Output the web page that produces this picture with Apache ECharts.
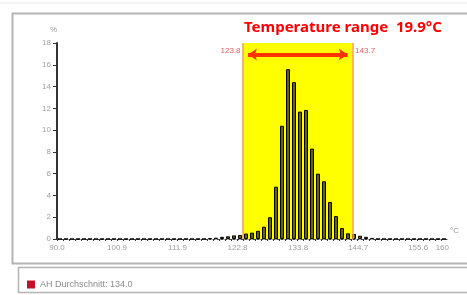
<!DOCTYPE html>
<html>
<head>
<meta charset="utf-8">
<script src="https://cdn.jsdelivr.net/npm/echarts@6/dist/echarts.min.js"></script>
<style>
  html, body { margin: 0; padding: 0; background: #fff; }
  #chart { width: 467px; height: 295px; }
</style>
</head>
<body>
<div id="chart"></div>
<script>
// histogram bins (°C), 65 bins of 1.09 °C starting at 90.0
var binStart = 90.0;
var binWidth = 1.09;
var counts = [
  0, 0, 0, 0, 0, 0, 0, 0, 0, 0,
  0, 0, 0, 0, 0, 0, 0, 0, 0, 0,
  0, 0, 0, 0, 0, 0.08, 0.12, 0.2, 0.25, 0.33,
  0.37, 0.5, 0.58, 0.75, 1.13, 2.0, 4.8, 10.4, 15.6, 14.4,
  11.7, 11.85, 8.3, 6.0, 5.3, 3.4, 2.1, 1.0, 0.52, 0.46,
  0.3, 0.2, 0.1, 0, 0, 0, 0, 0, 0, 0,
  0, 0, 0, 0, 0
];
var xTicks = [90.0, 100.9, 111.9, 122.8, 133.8, 144.7, 155.6, 160];
var xTickLabels = ['90.0', '100.9', '111.9', '122.8', '133.8', '144.7', '155.6', '160'];
var rangeLow = 123.8;
var rangeHigh = 143.7;
var rangeText = 'Temperature range  19.9°C';
var legendName = 'AH Durchschnitt: 134.0';

var xMax = binStart + binWidth * counts.length;
var barData = [];
var binEdges = [];
for (var i = 0; i < counts.length; i++) {
  barData.push([binStart + binWidth * (i + 0.5), counts[i]]);
  binEdges.push(binStart + binWidth * i);
}

var chart = echarts.init(document.getElementById('chart'));
chart.setOption({
  backgroundColor: '#fff',
  animation: false,
  title: {
    text: rangeText,
    left: 239, top: 15,
    textStyle: { color: '#ff0000', fontSize: 15, fontWeight: 'bold', fontFamily: 'Noto Sans' }
  },
  legend: {
    left: 22, top: 275,
    itemWidth: 8, itemHeight: 8, icon: 'rect',
    data: [{ name: legendName, itemStyle: { color: '#c0102a', borderWidth: 0 } }],
    textStyle: { color: '#8a8a8a', fontSize: 9, fontFamily: 'Liberation Sans' }
  },
  graphic: [
    { type: 'line', shape: { x1: 0, y1: 3, x2: 467, y2: 3 }, style: { stroke: '#e8e8e8', lineWidth: 1 } },
    { type: 'rect', shape: { x: 12.5, y: 13.5, width: 470, height: 250 }, style: { fill: 'none', stroke: '#b4b4b4', lineWidth: 2 } },
    { type: 'rect', shape: { x: 18.5, y: 267.5, width: 470, height: 25 }, style: { fill: 'none', stroke: '#b4b4b4', lineWidth: 1.5 } }
  ],
  grid: { left: 57, right: 20, top: 43, bottom: 56 },
  xAxis: {
    type: 'value',
    min: binStart, max: xMax,
    name: '°C', nameGap: 3,
    nameTextStyle: { color: '#999', fontSize: 8, verticalAlign: 'bottom', padding: [0, 0, 4, 0] },
    splitLine: { show: false },
    axisLine: { lineStyle: { color: '#444', width: 1.2, type: [2, 2] } },
    axisTick: { customValues: binEdges, length: 2, lineStyle: { color: '#333' } },
    axisLabel: {
      customValues: xTicks,
      color: '#a0a0a0', fontSize: 8, margin: 5, fontFamily: 'Liberation Sans',
      formatter: function (v) {
        var k = xTicks.indexOf(v);
        return k >= 0 ? xTickLabels[k] : '';
      }
    }
  },
  yAxis: {
    type: 'value',
    min: 0, max: 18, interval: 2,
    name: '%', nameGap: 9,
    nameTextStyle: { color: '#999', fontSize: 8, align: 'right' },
    splitLine: { show: false },
    axisLine: { show: true, lineStyle: { color: '#333', width: 2 } },
    axisTick: { show: true, length: 4, lineStyle: { color: '#333' } },
    axisLabel: { color: '#a0a0a0', fontSize: 8, margin: 6, fontFamily: 'Liberation Sans' }
  },
  series: [
    {
      name: legendName,
      type: 'bar',
      barWidth: 4,
      data: barData,
      itemStyle: { color: '#6b6200', borderColor: '#000', borderWidth: 1 },
      z: 3,
      markArea: {
        silent: true,
        itemStyle: { color: '#ffff00' },
        data: [[{ xAxis: rangeLow, yAxis: 0 }, { xAxis: rangeHigh, yAxis: 18 }]]
      },
      markLine: {
        silent: true,
        symbol: 'none',
        label: { show: false },
        lineStyle: { color: '#f2a050', type: 'solid', width: 1.5 },
        data: [{ xAxis: rangeLow }, { xAxis: rangeHigh }]
      },
      markPoint: {
        silent: true,
        symbol: 'rect', symbolSize: 1,
        itemStyle: { color: 'rgba(0,0,0,0)', borderWidth: 0 },
        label: { show: true, color: '#e86060', fontSize: 8, fontFamily: 'Liberation Sans', distance: 2 },
        data: [
          { coord: [rangeLow, 17.3], value: rangeLow.toFixed(1), label: { position: 'left' } },
          { coord: [rangeHigh, 17.3], value: rangeHigh.toFixed(1), label: { position: 'right' } }
        ]
      }
    },
    {
      // double-headed arrow across the range
      type: 'line',
      silent: true,
      data: [],
      markLine: {
        silent: true,
        symbol: ['arrow', 'arrow'],
        symbolSize: [9, 9],
        label: { show: false },
        lineStyle: { color: '#ff3300', type: 'solid', width: 4 },
        data: [[{ coord: [rangeLow + 0.9, 16.95] }, { coord: [rangeHigh - 0.9, 16.95] }]]
      }
    }
  ]
});
</script>
</body>
</html>
